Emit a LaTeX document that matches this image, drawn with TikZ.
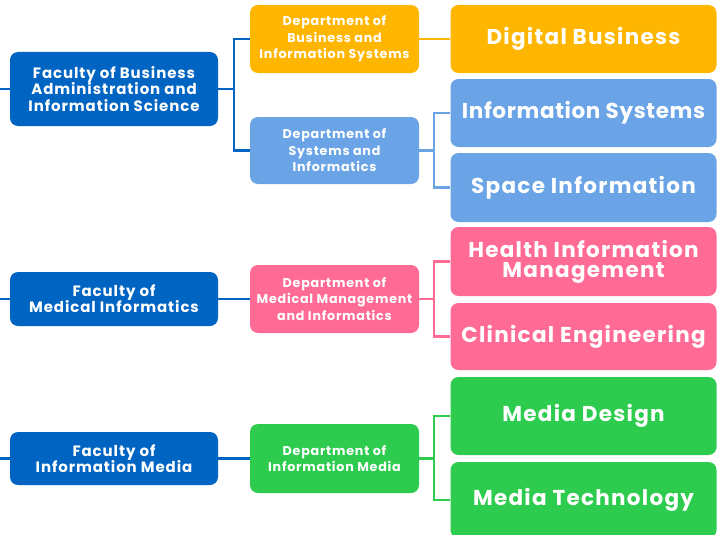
\documentclass[tikz,border=0pt]{standalone}
\usepackage{fontspec}
\setmainfont{Poppins}[LetterSpace=6]
\definecolor{facblue}{RGB}{0,100,194}
\definecolor{orng}{RGB}{255,182,0}
\definecolor{lblue}{RGB}{106,164,230}
\definecolor{pink}{RGB}{255,107,149}
\definecolor{grn}{RGB}{46,204,78}
\tikzset{
  box/.style={rounded corners=8pt, inner sep=0pt, align=center, text=white, font=\bfseries},
  fac/.style={box, fill=facblue, minimum width=208pt, font=\bfseries\fontsize{15}{16.3}\selectfont},
  dep/.style={box, minimum width=169pt, minimum height=68pt, font=\bfseries\fontsize{12.7}{16.5}\selectfont},
  prog/.style={box, minimum width=266pt, font=\bfseries\fontsize{21.5}{20}\selectfont},
  conn/.style={line width=2.2pt},
}
\begin{document}
\begin{tikzpicture}[x=1pt,y=-1pt]
\useasboundingbox (0,0) rectangle (717,535);
\begin{scope}
\clip (0,0) rectangle (717,535);
% faculties
\node[fac, minimum height=74pt] (fac1) at (114,89) {Faculty of Business\\Administration and\\Information Science};
\node[fac, minimum height=54pt] (fac2) at (114,299) {Faculty of\\Medical Informatics};
\node[fac, minimum height=53pt] (fac3) at (114,458.5) {Faculty of\\Information Media};
% departments
\node[dep, fill=orng] (dep1) at (334.5,39) {Department of\\Business and\\Information Systems};
\node[dep, fill=lblue, minimum height=67pt] (dep2) at (334.5,150.5) {Department of\\Systems and\\Informatics};
\node[dep, fill=pink] (dep3) at (334.5,299) {Department of\\Medical Management\\and Informatics};
\node[dep, fill=grn, minimum height=69pt] (dep4) at (334.5,458.5) {Department of\\Information Media};
% programs
\node[prog, fill=orng, minimum height=68pt] (db) at (583.5,39) {Digital Business};
\node[prog, fill=lblue, minimum height=68pt] (is) at (583.5,113) {\addfontfeatures{LetterSpace=3}Information Systems};
\node[prog, fill=lblue, minimum height=69pt] (si) at (583.5,187.5) {Space Information};
\node[prog, fill=pink, minimum height=69pt] (him) at (583.5,261.5) {Health Information\\Management};
\node[prog, fill=pink, minimum height=67pt] (ce) at (583.5,336.5) {Clinical Engineering};
\node[prog, fill=grn, minimum height=78pt] (md) at (583.5,416) {Media Design};
\node[prog, fill=grn, minimum height=76pt] (mt) at (583.5,500) {Media Technology};
% left stubs
\coordinate (s1) at (0,89);
\coordinate (s2) at (0,299);
\coordinate (s3) at (0,458.5);
\draw[conn, facblue] (s1) -- (fac1.west);
\draw[conn, facblue] (s2) -- (fac2.west);
\draw[conn, facblue] (s3) -- (fac3.west);
% faculty to departments
\draw[conn, facblue] (fac1.east) -- ++(16,0) |- (dep1.west);
\draw[conn, facblue] (fac1.east) -- ++(16,0) |- (dep2.west);
\draw[conn, facblue] (fac2.east) -- (dep3.west);
\draw[conn, facblue] (fac3.east) -- (dep4.west);
% departments to programs
\draw[conn, orng] (dep1.east) -- (db.west);
\draw[conn, lblue] (dep2.east) -- ++(15,0) |- (is.west);
\draw[conn, lblue] (dep2.east) -- ++(15,0) |- (si.west);
\draw[conn, pink] (dep3.east) -- ++(15,0) |- (him.west);
\draw[conn, pink] (dep3.east) -- ++(15,0) |- (ce.west);
\draw[conn, grn] (dep4.east) -- ++(15,0) |- (md.west);
\draw[conn, grn] (dep4.east) -- ++(15,0) |- (mt.west);
\end{scope}
\end{tikzpicture}
\end{document}
